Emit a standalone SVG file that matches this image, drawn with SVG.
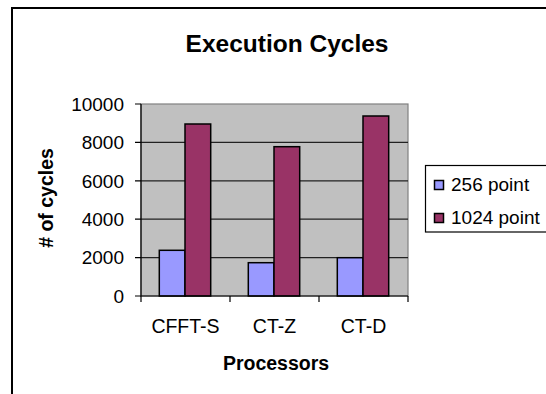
<svg xmlns="http://www.w3.org/2000/svg" width="546" height="394" viewBox="0 0 546 394">
<style>
  text { font-family: "Liberation Sans", Arial, sans-serif; fill: #000; }
  .tick { font-size: 19px; }
  .cat { font-size: 19.5px; text-anchor: middle; }
  .bold { font-weight: bold; }
  .grid { stroke: #222; stroke-width: 1.2; }
  .axis { stroke: #000; stroke-width: 1.2; fill: none; }
  .b256 { fill: #9999FF; stroke: #000; stroke-width: 1.5; }
  .b1024 { fill: #993366; stroke: #000; stroke-width: 1.5; }
</style>
<rect x="0" y="0" width="546" height="394" fill="#fff"/>
<path d="M12,400 V8 H560" fill="none" stroke="#000" stroke-width="2"/>
<text class="bold" x="287" y="52" font-size="24.5" text-anchor="middle">Execution Cycles</text>
<g id="plot">
  <rect x="141" y="104" width="267" height="192" fill="#C0C0C0" stroke="#808080" stroke-width="1.2"/>
  <g id="gridlines">
    <line class="grid" x1="141" y1="142.4" x2="408" y2="142.4"/>
    <line class="grid" x1="141" y1="180.8" x2="408" y2="180.8"/>
    <line class="grid" x1="141" y1="219.2" x2="408" y2="219.2"/>
    <line class="grid" x1="141" y1="257.6" x2="408" y2="257.6"/>
  </g>
</g>
<g id="bars">
  <rect class="b256" x="159.3" y="250.3" width="25.7" height="45.7"/>
  <rect class="b1024" x="185" y="124" width="25.7" height="172"/>
  <rect class="b256" x="248.3" y="262.7" width="25.7" height="33.3"/>
  <rect class="b1024" x="274" y="146.7" width="25.7" height="149.3"/>
  <rect class="b256" x="337.3" y="257.7" width="25.7" height="38.3"/>
  <rect class="b1024" x="363" y="116" width="25.7" height="180"/>
</g>
<g id="axes">
  <path class="axis" d="M141,104 V296 H408"/>
  <path class="axis" d="M135,104 H141 M135,142.4 H141 M135,180.8 H141 M135,219.2 H141 M135,257.6 H141 M135,296 H141"/>
  <path class="axis" d="M141,296 V302 M230,296 V302 M319,296 V302 M408,296 V302"/>
</g>
<g id="ytick-labels" class="tick" text-anchor="end">
  <text x="124" y="110.8">10000</text>
  <text x="124" y="149.2">8000</text>
  <text x="124" y="187.6">6000</text>
  <text x="124" y="226">4000</text>
  <text x="124" y="264.4">2000</text>
  <text x="124" y="302.8">0</text>
</g>
<g id="xtick-labels">
  <text class="cat" x="185.5" y="333">CFFT-S</text>
  <text class="cat" x="274.5" y="333">CT-Z</text>
  <text class="cat" x="363.5" y="333">CT-D</text>
</g>
<text class="bold" x="276" y="370" font-size="19.5" text-anchor="middle">Processors</text>
<text class="bold" transform="translate(53,198) rotate(-90)" font-size="19.5" text-anchor="middle"># of cycles</text>
<g id="legend">
  <rect x="425.5" y="165.5" width="140" height="66.5" fill="#fff" stroke="#000" stroke-width="1.2"/>
  <rect class="b256" x="434.5" y="180.5" width="9" height="9" stroke-width="1.2"/>
  <text class="tick" x="451" y="191">256 point</text>
  <rect class="b1024" x="434.5" y="213.5" width="9" height="9" stroke-width="1.2"/>
  <text class="tick" x="451" y="224">1024 point</text>
</g>
</svg>
